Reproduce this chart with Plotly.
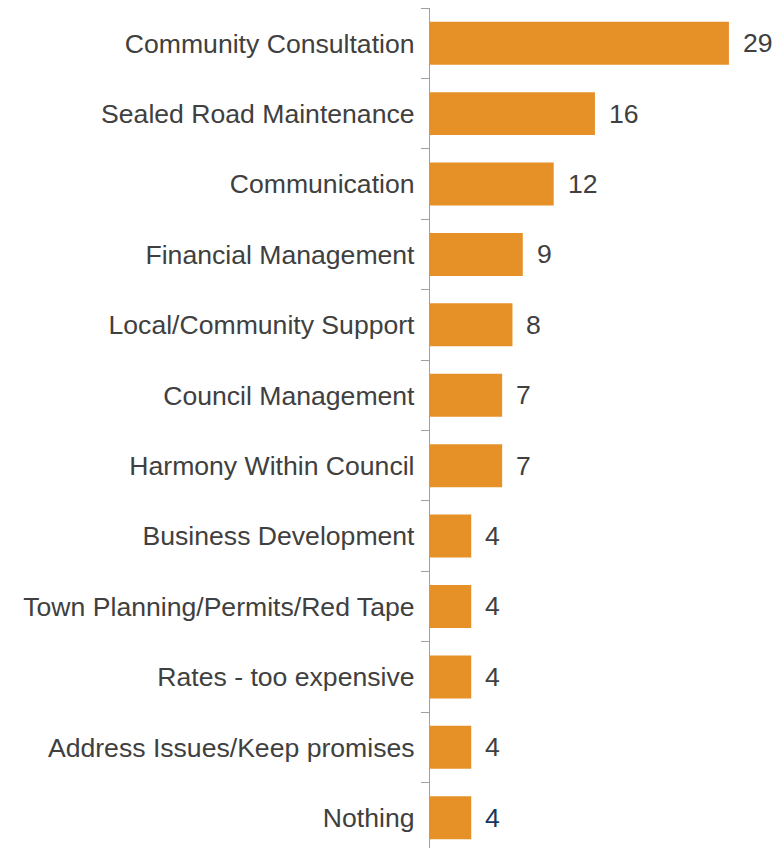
import plotly.graph_objects as go

# Top mentions, ordered from most to least
categories = [
    "Community Consultation",
    "Sealed Road Maintenance",
    "Communication",
    "Financial Management",
    "Local/Community Support",
    "Council Management",
    "Harmony Within Council",
    "Business Development",
    "Town Planning/Permits/Red Tape",
    "Rates - too expensive",
    "Address Issues/Keep promises",
    "Nothing",
]
values = [29, 16, 12, 9, 8, 7, 7, 4, 4, 4, 4, 4]
label_colors = ["#404040"] * 11 + ["#17375E"]

BAR_COLOR = "#E69028"
FONT = "Liberation Sans, Arial, sans-serif"
SIZE = 26.6

fig = go.Figure(
    go.Bar(
        x=values,
        y=categories,
        orientation="h",
        marker=dict(color=BAR_COLOR, line=dict(width=0)),
        width=0.61,
        hoverinfo="skip",
    )
)

for cat, val, col in zip(categories, values, label_colors):
    fig.add_annotation(
        x=val, y=cat, text=str(val), showarrow=False,
        xanchor="left", yanchor="middle", xshift=12,
        font=dict(family=FONT, size=SIZE, color=col),
    )

fig.update_layout(
    width=781,
    height=848,
    margin=dict(l=430, r=0, t=8, b=0),
    paper_bgcolor="white",
    plot_bgcolor="white",
    showlegend=False,
    font=dict(family=FONT, size=SIZE, color="#404040"),
    xaxis=dict(
        range=[0, 34.05],
        visible=False,
        showgrid=False,
        zeroline=False,
    ),
    yaxis=dict(
        type="category",
        categoryorder="array",
        categoryarray=categories,
        range=[11.43, -0.5],
        showline=True,
        linecolor="#A0A0A0",
        linewidth=1.3,
        ticks="outside",
        tickson="boundaries",
        ticklen=8,
        tickcolor="#A0A0A0",
        tickwidth=1.3,
        ticklabelstandoff=9,
        showgrid=False,
        zeroline=False,
        tickfont=dict(family=FONT, size=SIZE, color="#404040"),
    ),
)

fig.write_html("out.html")
